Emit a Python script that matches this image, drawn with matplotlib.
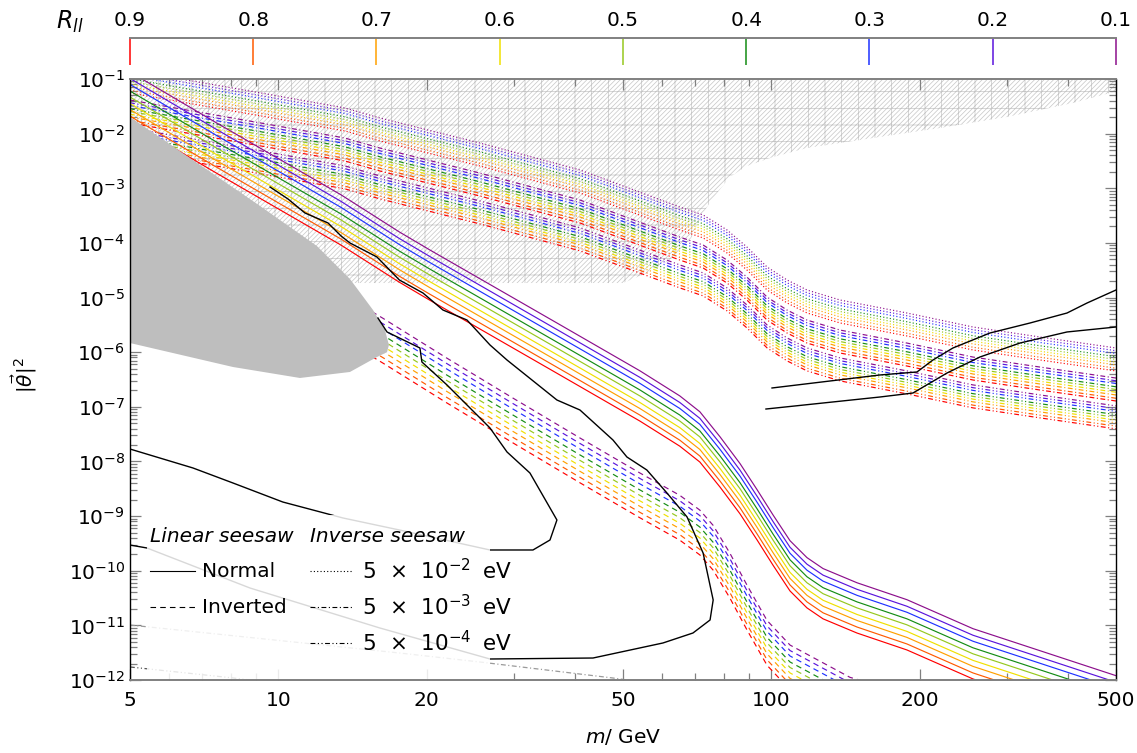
import numpy as np
import matplotlib
matplotlib.use('Agg')
import matplotlib.pyplot as plt
import matplotlib.ticker as mticker
from matplotlib.patches import Rectangle


# ---- data (masses in GeV, couplings as log10 |theta|^2) ----

r_ll = [0.9, 0.8, 0.7, 0.6, 0.5, 0.4, 0.3, 0.2, 0.1]
r_colors = ['#ff0000', '#ff5a00', '#ffa000', '#f0e000', '#96c81e',
            '#148c14', '#1e32ff', '#5a14dc', '#8c0f8c']

# linear seesaw, normal hierarchy (R_ll = 0.9 curve, others lie higher by the shifts)
lin_nh_m = [5.0, 7.48, 13.4, 17.6, 20.3, 37.3, 54.1, 65.2, 71.6, 78.7, 86.4, 93.6,
            100.8, 109.1, 118.1, 127.3, 149.2, 188.4, 256.4, 500.0]
lin_nh_lg = [-1.79, -2.72, -4.04, -4.72, -5.05, -6.42, -7.26, -7.72, -8.01, -8.47,
             -8.96, -9.44, -9.90, -10.37, -10.68, -10.88, -11.14, -11.45, -11.98, -12.84]
lin_nh_shift = [0.0, 0.11, 0.23, 0.34, 0.46, 0.57, 0.69, 0.80, 0.92]

# linear seesaw, inverted hierarchy
lin_ih_m = [5.0, 16.3, 21.98, 29.91, 40.9, 54.1, 65.2, 71.6, 76.2, 82.4, 89.2,
            98.0, 109.1, 144.3, 500.0]
lin_ih_lg = [-3.42, -6.20, -6.93, -7.66, -8.39, -9.03, -9.44, -9.71, -9.99, -10.50,
             -11.08, -11.73, -12.18, -12.77, -14.2]
lin_ih_shift = [0.0, 0.10, 0.21, 0.31, 0.41, 0.51, 0.62, 0.72, 0.82]

# inverse seesaw (R_ll = 0.1 curve, others lie lower by the shifts)
inv_m = [5.0, 6.35, 9.22, 13.65, 16.07, 25.6, 40.9, 65.2, 72.7, 81.3, 89.2,
         98.0, 107.6, 118.1, 137.8, 188.4, 256.4, 350.5, 500.0]
inv_2_lg = [-0.835, -1.0, -1.256, -1.531, -1.714, -2.171, -2.665, -3.343, -3.489, -3.764,
            -4.075, -4.441, -4.679, -4.862, -5.045, -5.283, -5.539, -5.722, -5.923]
inv_3_lg = [-1.385, -1.55, -1.806, -2.081, -2.264, -2.721, -3.215, -3.893, -4.039, -4.314,
            -4.625, -4.991, -5.229, -5.412, -5.595, -5.833, -6.089, -6.272, -6.473]
inv_4_lg = [-1.895, -2.06, -2.316, -2.591, -2.774, -3.231, -3.725, -4.403, -4.549, -4.824,
            -5.135, -5.501, -5.739, -5.922, -6.105, -6.343, -6.599, -6.782, -6.983]
inv_shift = [0.42, 0.37, 0.31, 0.26, 0.21, 0.16, 0.10, 0.05, 0.0]

# excluded regions
hatch_m = [5.0, 50.0, 55.9, 62.3, 68.4, 71.6, 74.0, 77.6, 82.4, 89.2, 100.8, 118.1,
           160.7, 219.8, 300.6, 409.0, 486.0, 500.0]
hatch_lg = [-4.734, -4.734, -4.550, -4.313, -3.947, -3.580, -3.343, -3.086, -2.794,
            -2.592, -2.428, -2.263, -2.080, -1.897, -1.695, -1.439, -1.256, -1.220]

gray_m = [5.0, 6.94, 9.18, 11.97, 13.97, 15.56, 16.45, 16.76, 16.61, 15.85, 13.97,
          11.06, 8.09, 5.0]
gray_lg = [-1.695, -2.574, -3.324, -4.056, -4.660, -5.228, -5.594, -5.868, -6.0,
           -6.088, -6.362, -6.472, -6.271, -5.832]

# black sensitivity contours
cont_a_m = [9.62, 10.46, 11.32, 12.61, 13.40, 13.97, 15.85, 17.6, 19.65, 21.57, 24.13,
            26.87, 29.09, 36.73, 40.9, 47.72, 50.93, 55.9, 61.41, 67.45, 72.7, 76.2,
            75.1, 69.34, 60.26, 43.47, 26.87, 16.07, 8.76, 5.41, 5.0]
cont_a_lg = [-2.977, -3.196, -3.452, -3.635, -3.873, -4.001, -4.258, -4.679, -4.917,
             -5.228, -5.411, -5.868, -6.143, -6.875, -7.058, -7.607, -7.918, -8.156,
             -8.577, -9.016, -9.675, -10.535, -10.901, -11.139, -11.322, -11.597,
             -11.615, -11.048, -10.316, -9.583, -9.529]

cont_b_m = [15.92, 16.61, 19.37, 19.55, 21.98, 26.87, 29.09, 32.38, 36.73, 35.56, 32.84,
            26.87, 17.6, 13.52, 10.21, 8.09, 6.71, 5.0]
cont_b_lg = [-5.374, -5.630, -5.923, -6.179, -6.600, -7.387, -7.826, -8.211, -9.071,
             -9.437, -9.620, -9.620, -9.254, -9.034, -8.742, -8.394, -8.119, -7.772]

cont_e_m = [100.3, 166.1, 197.4, 212.7, 233.5, 277.5, 334.6, 397.8, 436.8, 500.0]
cont_e_lg = [-6.655, -6.417, -6.362, -6.143, -5.923, -5.649, -5.466, -5.283, -5.100, -4.862]

cont_f_m = [97.5, 166.1, 193.7, 209.8, 227.1, 264.9, 319.4, 397.8, 500.0]
cont_f_lg = [-7.040, -6.820, -6.747, -6.564, -6.381, -6.088, -5.832, -5.630, -5.539]

cont_g_m = [5.0, 17.6, 25.64, 47.72, 71.6]
cont_g_lg = [-10.993, -11.505, -11.670, -11.963, -12.18]

cont_h_m = [5.0, 8.09, 12.73]
cont_h_lg = [-11.761, -11.962, -12.18]

x_ticks = [5, 10, 20, 50, 100, 200, 500]
y_exps = list(range(-12, 0))


# ---- style ----

plt.rcParams['font.family'] = ['DejaVu Sans']
plt.rcParams['mathtext.fontset'] = 'dejavusans'
plt.rcParams['lines.scale_dashes'] = False
plt.rcParams['hatch.linewidth'] = 0.5

ls_dot = (0, (0.8, 1.6))
ls_dash = (0, (4.0, 3.0))
ls_dd = (0, (3.5, 1.8, 0.8, 1.8))
ls_ddd = (0, (3.5, 1.8, 0.8, 1.8, 0.8, 1.8))
lw = 0.85
fs = 14.5

fig = plt.figure(figsize=(11.37, 7.53), dpi=100)
ax = fig.add_axes([0.1143, 0.0969, 0.8672, 0.7982])


# hatched and gray excluded regions
ax.fill_between(hatch_m, 10**np.array(hatch_lg), 1.0, facecolor='none',
                edgecolor='#c6c6c6', hatch='+///////', linewidth=0, zorder=0.5)
ax.fill(gray_m, 10**np.array(gray_lg), color='#bebebe', lw=0, zorder=3)


# coloured model curves
for k, col in enumerate(r_colors):
    ax.plot(inv_m, 10**(np.array(inv_2_lg) - inv_shift[k]), color=col, lw=lw, ls=ls_dot, zorder=2)
    ax.plot(inv_m, 10**(np.array(inv_3_lg) - inv_shift[k]), color=col, lw=lw, ls=ls_dd, zorder=2)
    ax.plot(inv_m, 10**(np.array(inv_4_lg) - inv_shift[k]), color=col, lw=lw, ls=ls_ddd, zorder=2)
    ax.plot(lin_ih_m, 10**(np.array(lin_ih_lg) + lin_ih_shift[k]), color=col, lw=lw, ls=ls_dash, zorder=2)
    ax.plot(lin_nh_m, 10**(np.array(lin_nh_lg) + lin_nh_shift[k]), color=col, lw=lw, zorder=2.1)


# black contours
for cm, cl in [(cont_a_m, cont_a_lg), (cont_b_m, cont_b_lg),
               (cont_e_m, cont_e_lg), (cont_f_m, cont_f_lg)]:
    ax.plot(cm, 10**np.array(cl), color='k', lw=1.0, zorder=4)
ax.plot(cont_g_m, 10**np.array(cont_g_lg), color='#9a9a9a', lw=0.9, ls=ls_dd, zorder=4)
ax.plot(cont_h_m, 10**np.array(cont_h_lg), color='#555555', lw=0.9, ls=ls_ddd, zorder=4)


# axes
ax.set_xscale('log')
ax.set_yscale('log')
ax.set_xlim(5, 500)
ax.set_ylim(1e-12, 1e-1)

ax.set_xticks(x_ticks)
ax.set_xticklabels([str(t) for t in x_ticks])
ax.xaxis.set_minor_locator(mticker.LogLocator(base=10, subs=np.arange(2, 10), numticks=20))
ax.xaxis.set_minor_formatter(mticker.NullFormatter())

ax.set_yticks([10.0**e for e in y_exps])
ax.set_yticklabels([r'$10^{%d}$' % e for e in y_exps])
ax.yaxis.set_minor_locator(mticker.LogLocator(base=10, subs=np.arange(2, 10), numticks=40))
ax.yaxis.set_minor_formatter(mticker.NullFormatter())

ax.tick_params(which='both', direction='in', top=True, right=True, color='#808080',
               labelsize=fs, width=0.9)
ax.tick_params(which='major', length=8)
ax.tick_params(which='minor', length=5)
ax.tick_params(axis='x', pad=8)

for s in ['left', 'right']:
    ax.spines[s].set_color('k')
    ax.spines[s].set_linewidth(1.0)
for s in ['top', 'bottom']:
    ax.spines[s].set_color('#808080')
    ax.spines[s].set_linewidth(1.4)
for s in ax.spines.values():
    s.set_zorder(7)

ax.set_xlabel(r'$m$/ GeV', fontsize=fs)
ax.xaxis.set_label_coords(0.5, -0.078)
ax.set_ylabel(r'$|\vec{\theta}|^2$', fontsize=fs)
ax.yaxis.set_label_coords(-0.092, 0.507)


# legend
ax.add_patch(Rectangle((0.0172, 0.0), 0.348, 0.2745, transform=ax.transAxes,
                       facecolor='white', edgecolor='none', alpha=0.85, zorder=5))

leg_rows = [0.1814, 0.1215, 0.0616]
ax.text(0.0203, 0.238, 'Linear seesaw', transform=ax.transAxes, fontsize=fs,
        style='italic', va='center', zorder=6)
ax.text(0.1826, 0.238, 'Inverse seesaw', transform=ax.transAxes, fontsize=fs,
        style='italic', va='center', zorder=6)
for row, (sty, lab) in enumerate([('-', 'Normal'), (ls_dash, 'Inverted')]):
    ax.plot([0.0203, 0.0659], [leg_rows[row]] * 2, transform=ax.transAxes,
            color='k', lw=0.8, ls=sty, zorder=6)
    ax.text(0.073, leg_rows[row], lab, transform=ax.transAxes, fontsize=fs,
            va='center', zorder=6)
for row, (sty, lab) in enumerate([(ls_dot, r'$5\;\,\times\;\,10^{-2}\;\;$eV'),
                                  (ls_dd, r'$5\;\,\times\;\,10^{-3}\;\;$eV'),
                                  (ls_ddd, r'$5\;\,\times\;\,10^{-4}\;\;$eV')]):
    ax.plot([0.1826, 0.2252], [leg_rows[row]] * 2, transform=ax.transAxes,
            color='k', lw=0.8, ls=sty, zorder=6)
    ax.text(0.2353, leg_rows[row], lab, transform=ax.transAxes, fontsize=15.5,
            va='center', zorder=6)


# colour key for R_ll on top
cax = fig.add_axes([0.1143, 0.90, 0.8672, 0.0495])
cax.set_xlim(0.9, 0.1)
cax.set_ylim(0, 1)
cax.patch.set_alpha(0)
for s in ['left', 'right', 'bottom']:
    cax.spines[s].set_visible(False)
cax.spines['top'].set_color('#808080')
cax.spines['top'].set_linewidth(1.4)
cax.set_yticks([])
cax.xaxis.set_ticks_position('top')
cax.set_xticks(r_ll)
cax.set_xticklabels(['%.1f' % r for r in r_ll])
cax.tick_params(axis='x', direction='in', length=0, pad=6, labelsize=fs)
cax.vlines(r_ll, 0.27, 1.0, colors=r_colors, lw=1.1, clip_on=False)
fig.text(0.0616, 0.9708, r'$R_{ll}$', ha='center', va='center', fontsize=17)


fig.savefig('out.png', dpi=100)
